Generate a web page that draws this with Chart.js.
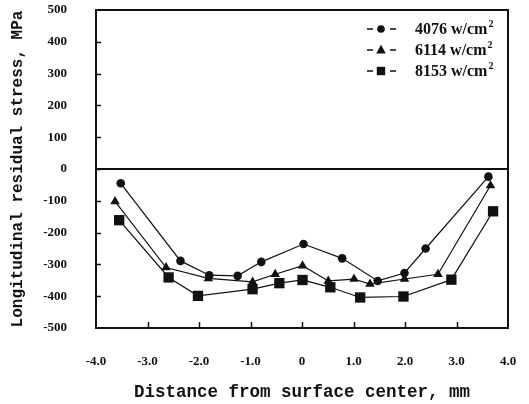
<!DOCTYPE html>
<html>
<head>
<meta charset="utf-8">
<script src="https://cdn.jsdelivr.net/npm/chart.js@4"></script>
<style>
  html, body { margin: 0; padding: 0; background: #fff; }
  #wrap { width: 529px; height: 404px; }
</style>
</head>
<body>
<div id="wrap"><canvas id="stressChart" width="529" height="404"></canvas></div>
<script>
// series (x in mm, y in MPa)
const labels = ["4076", "6114", "8153"];

const x4076 = [-3.52, -2.36, -1.80, -1.25, -0.79, 0.03, 0.78, 1.47, 1.99, 2.40, 3.62];
const y4076 = [-45, -289, -334, -336, -292, -236, -281, -352, -327, -250, -24];

const x6114 = [-3.63, -2.64, -1.82, -0.96, -0.52, 0.01, 0.51, 1.01, 1.32, 1.99, 2.64, 3.66];
const y6114 = [-102, -310, -344, -355, -331, -304, -352, -346, -362, -346, -331, -52];

const x8153 = [-3.55, -2.59, -2.02, -0.96, -0.44, 0.01, 0.55, 1.13, 1.97, 2.90, 3.71];
const y8153 = [-161, -341, -399, -378, -359, -349, -372, -404, -401, -348, -133];

const xTicks = [-4, -3, -2, -1, 0, 1, 2, 3, 4];
const yTicks = [500, 400, 300, 200, 100, 0, -100, -200, -300, -400, -500];

const toPts = (xs, ys) => xs.map((x, i) => ({ x: x, y: ys[i] }));

const tickFont = { family: "'Liberation Serif', 'DejaVu Serif', serif", size: 13, weight: "bold" };
const titleFont = { family: "'Liberation Mono', 'DejaVu Sans Mono', monospace", weight: "bold" };

function drawMarker(ctx, style, x, y, r) {
  ctx.beginPath();
  if (style === "circle") {
    ctx.arc(x, y, r, 0, Math.PI * 2);
  } else if (style === "triangle") {
    ctx.moveTo(x, y - r * 1.1);
    ctx.lineTo(x + r, y + r * 0.75);
    ctx.lineTo(x - r, y + r * 0.75);
    ctx.closePath();
  } else {
    ctx.rect(x - r, y - r, r * 2, r * 2);
  }
  ctx.fill();
}

// frame, inward ticks and the legend box contents
const framePlugin = {
  id: "frame",
  afterDatasetsDraw(chart) {
    const ctx = chart.ctx;
    const a = chart.chartArea;
    const xs = chart.scales.x, ys = chart.scales.y;
    ctx.save();
    ctx.strokeStyle = "#111";
    ctx.lineWidth = 2;
    ctx.strokeRect(a.left, a.top, a.right - a.left, a.bottom - a.top);

    ctx.lineWidth = 1.5;
    ctx.beginPath();
    xTicks.slice(1, -1).forEach(v => {
      const px = Math.round(xs.getPixelForValue(v)) + 0.5;
      ctx.moveTo(px, a.bottom);
      ctx.lineTo(px, a.bottom - 6);
    });
    yTicks.slice(1, -1).forEach(v => {
      const py = Math.round(ys.getPixelForValue(v)) + 0.5;
      ctx.moveTo(a.left, py);
      ctx.lineTo(a.left + 5, py);
    });
    ctx.stroke();

    // legend
    const styles = ["circle", "triangle", "rect"];
    const sizes = [3.8, 4.8, 4.2];
    ctx.fillStyle = "#111";
    ctx.lineWidth = 1.3;
    chart.data.datasets.forEach((ds, i) => {
      const cy = 29 + i * 21;
      const mx = 381;
      ctx.beginPath();
      ctx.moveTo(mx - 14, cy); ctx.lineTo(mx - 8, cy);
      ctx.moveTo(mx + 9, cy); ctx.lineTo(mx + 15, cy);
      ctx.stroke();
      drawMarker(ctx, styles[i], mx, cy, sizes[i]);
      ctx.font = "bold 16px 'Liberation Serif', serif";
      ctx.textBaseline = "middle";
      ctx.textAlign = "left";
      const txt = ds.label + " w/cm";
      ctx.fillText(txt, 415, cy + 1);
      const w = ctx.measureText(txt).width;
      ctx.font = "bold 10px 'Liberation Serif', serif";
      ctx.fillText("2", 415 + w + 1, cy - 5);
    });
    ctx.restore();
  }
};

const lineStyle = {
  borderColor: "#111",
  backgroundColor: "#111",
  borderWidth: 1.2,
  showLine: true,
  fill: false,
  tension: 0,
  pointBorderWidth: 0
};

new Chart(document.getElementById("stressChart").getContext("2d"), {
  type: "scatter",
  data: {
    datasets: [
      Object.assign({ label: labels[0], data: toPts(x4076, y4076), pointStyle: "circle", pointRadius: 4.3 }, lineStyle),
      Object.assign({ label: labels[1], data: toPts(x6114, y6114), pointStyle: "triangle", pointRadius: 5.5 }, lineStyle),
      Object.assign({ label: labels[2], data: toPts(x8153, y8153), pointStyle: "rect", pointRadius: 7.3 }, lineStyle)
    ]
  },
  options: {
    responsive: false,
    animation: false,
    layout: { padding: { top: 10, right: 21, left: 0, bottom: 0 } },
    plugins: {
      legend: { display: false },
      tooltip: { enabled: false }
    },
    scales: {
      x: {
        type: "linear",
        min: -4,
        max: 4,
        afterBuildTicks: s => { s.ticks = xTicks.map(v => ({ value: v })); },
        afterFit: s => { s.height = 76; s.paddingLeft = 0; s.paddingRight = 0; },
        border: { display: false },
        grid: { display: false, drawTicks: false },
        ticks: {
          color: "#111",
          font: tickFont,
          padding: 26,
          maxRotation: 0,
          autoSkip: false,
          callback: v => (v === 0 ? "0" : v.toFixed(1))
        },
        title: {
          display: true,
          text: "Distance from surface center, mm",
          color: "#111",
          font: Object.assign({ size: 17.5 }, titleFont),
          padding: { top: 0, bottom: 1 }
        }
      },
      y: {
        min: -500,
        max: 500,
        afterBuildTicks: s => { s.ticks = yTicks.map(v => ({ value: v })); },
        afterFit: s => { s.width = 96; s.paddingTop = 0; s.paddingBottom = 0; },
        border: { display: false },
        grid: {
          drawTicks: false,
          color: c => (c.tick && c.tick.value === 0 ? "#111" : "rgba(0,0,0,0)"),
          lineWidth: 2
        },
        ticks: {
          color: "#111",
          font: tickFont,
          padding: 29,
          autoSkip: false
        },
        title: {
          display: true,
          text: "Longitudinal residual stress, MPa",
          color: "#111",
          font: Object.assign({ size: 16 }, titleFont),
          padding: { top: 8, bottom: 0 }
        }
      }
    }
  },
  plugins: [framePlugin]
});
</script>
</body>
</html>
